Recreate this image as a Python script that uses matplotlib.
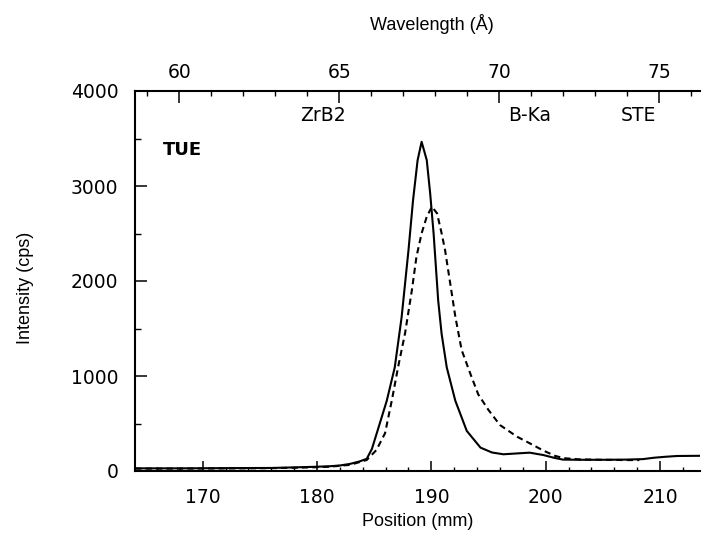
import matplotlib
matplotlib.use("Agg")
import matplotlib.pyplot as plt
from matplotlib.ticker import MultipleLocator, FixedLocator

# ---- data ----
solid_pos = [164.1, 168, 172, 176, 178, 180, 181.1, 182.0, 182.9, 183.7, 184.35, 184.8,
             185.2, 186.1, 186.8, 187.4, 188.0, 188.4, 188.8, 189.15, 189.6, 189.9,
             190.2, 190.6, 190.9, 191.35, 192.1, 193.1, 194.3, 195.3, 196.3, 197.5,
             198.6, 199.8, 200.7, 201.5, 203, 205, 207, 208.5, 209.5, 210.5, 211.5, 213.5]
solid_int = [28, 28, 30, 32, 38, 45, 50, 58, 75, 100, 128, 232,
             387, 739, 1090, 1618, 2322, 2850, 3272, 3465, 3272, 2920,
             2498, 1794, 1443, 1090, 739, 422, 246, 195, 176, 185,
             193, 168, 140, 120, 118, 118, 120, 125, 140, 150, 158, 160]

dashed_pos = [164.1, 168, 172, 176, 178, 180, 181.1, 182.9, 184.35, 185.2, 185.95,
              186.55, 187.1, 187.7, 188.3, 188.7, 189.15, 189.6, 190.05, 190.5, 190.9,
              191.2, 191.65, 192.1, 192.65, 193.4, 194.1, 195.0, 196.0, 197.5, 198.6,
              199.8, 200.8, 201.6, 203, 205, 207, 208.2]
dashed_int = [25, 25, 27, 30, 34, 40, 45, 65, 116, 221, 397,
              747, 1098, 1449, 1905, 2256, 2502, 2677, 2782, 2712, 2502,
              2326, 1976, 1624, 1274, 1028, 807, 642, 484, 361, 292,
              215, 160, 135, 122, 118, 115, 115]

pos_ticks = [170, 180, 190, 200, 210]
wl_ticks = [60, 65, 70, 75]
int_ticks = [0, 1000, 2000, 3000, 4000]
labels = ["ZrB2", "B-Ka", "STE"]
label_pos = [178.5, 196.7, 206.6]
sample_label = "TUE"

# linear position -> wavelength calibration
def pos2wl(p):
    return 60.731 + (p - 170.0) * 0.3572

def wl2pos(w):
    return 170.0 + (w - 60.731) / 0.3572

tick_font = ["DejaVu Sans"]
lab_font = ["Liberation Sans", "DejaVu Sans"]

fig = plt.figure(figsize=(7.1, 5.5), dpi=100)
ax = fig.add_axes([135/710, 1 - 471/550, 565/710, 380/550])

ax.plot(solid_pos, solid_int, color="black", lw=1.5, solid_joinstyle="round")
ax.plot(dashed_pos, dashed_int, color="black", lw=1.5, linestyle=(0, (3, 2)))

ax.set_xlim(164.08, 213.5)
ax.set_ylim(0, 4000)

ax.spines["right"].set_visible(False)
ax.spines["top"].set_visible(False)
for s in ["left", "bottom"]:
    ax.spines[s].set_linewidth(1.5)

ax.xaxis.set_major_locator(FixedLocator(pos_ticks))
ax.xaxis.set_minor_locator(MultipleLocator(2))
ax.yaxis.set_major_locator(FixedLocator(int_ticks))
ax.yaxis.set_minor_locator(MultipleLocator(500))

ax.tick_params(axis="x", which="major", direction="in", length=7, width=1.1, pad=12, labelsize=13.5)
ax.tick_params(axis="x", which="minor", direction="in", length=3, width=1.0)
ax.tick_params(axis="y", which="major", direction="in", length=8.4, width=1.1, pad=12, labelsize=13.5)
ax.tick_params(axis="y", which="minor", direction="in", length=4.3, width=1.0)
for t in ax.get_xticklabels() + ax.get_yticklabels():
    t.set_family(tick_font)

sec = ax.secondary_xaxis("top", functions=(pos2wl, wl2pos))
sec.spines["top"].set_linewidth(1.5)
sec.xaxis.set_major_locator(FixedLocator(wl_ticks))
sec.xaxis.set_minor_locator(MultipleLocator(1))
sec.tick_params(axis="x", which="major", direction="in", length=8.4, width=1.1, pad=6.5, labelsize=13.5)
sec.tick_params(axis="x", which="minor", direction="in", length=3.6, width=1.0)
for t in sec.get_xticklabels():
    t.set_family(tick_font)

for txt, p in zip(labels, label_pos):
    ax.text(p, 3737, txt, ha="left", va="center", fontsize=13.5, family=tick_font)
ax.text(166.5, 3380, sample_label, ha="left", va="center", fontsize=13,
        fontweight="bold", family=tick_font)

fig.text(432/710, 1 - 24/550, "Wavelength (Å)", ha="center", va="center",
         fontsize=13, family=lab_font)
fig.text(418/710, 1 - 522/550, "Position (mm)", ha="center", va="center",
         fontsize=13, family=lab_font)
fig.text(25/710, 1 - 288/550, "Intensity (cps)", ha="center", va="center",
         rotation=90, fontsize=13, family=lab_font)

fig.savefig("out.png", dpi=100)
